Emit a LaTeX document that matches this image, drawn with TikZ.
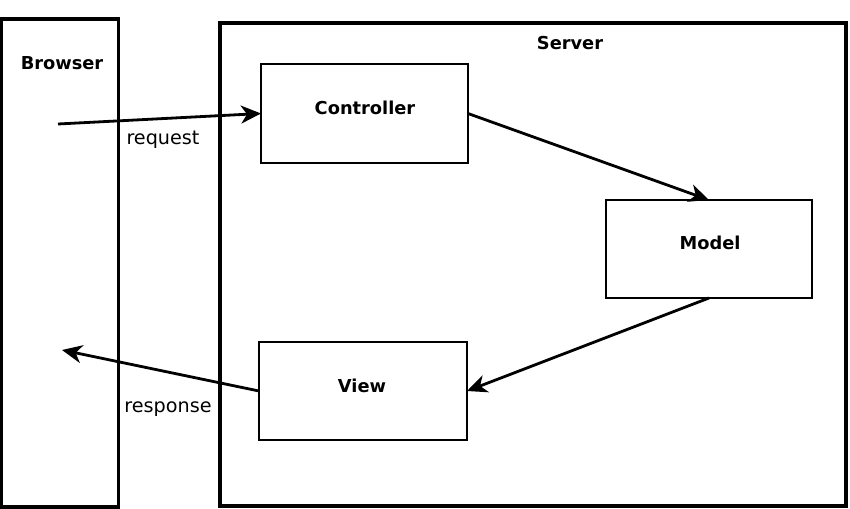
\documentclass[tikz,border=0pt]{standalone}
\usepackage{fontspec}
\setmainfont{DejaVu Sans}
\usetikzlibrary{arrows.meta}
\begin{document}
\begin{tikzpicture}[x=1pt,y=-1pt,
  outer/.style={draw,line width=3.2pt,inner sep=0pt,outer sep=0pt},
  inner/.style={draw,line width=2.8pt,inner sep=0pt,outer sep=0pt},
  title/.style={font=\fontsize{17.8}{20}\selectfont\bfseries,inner sep=0pt},
  lbl/.style={font=\fontsize{19.2}{21}\selectfont,inner sep=0pt},
  flow/.style={line width=2.8pt,-{Stealth[length=20pt,width=18pt,inset=6pt]}}]
\useasboundingbox (0,0) rectangle (850,508);
\node[outer,minimum width=117pt,minimum height=488pt] (browser) at (60,263) {};
\node[outer,minimum width=626pt,minimum height=483pt] (server) at (533,264.5) {};
\node[inner,minimum width=207pt,minimum height=99pt] (ctrl) at (364.5,113.5) {};
\node[inner,minimum width=206pt,minimum height=98pt] (model) at (709,249) {};
\node[inner,minimum width=208pt,minimum height=98pt] (view) at (363,391) {};
\node[title] (tb) at (62,63) {Browser};
\node[title] (ts) at (570,43) {Server};
\node[title] (tc) at (365,108) {Controller};
\node[title] (tm) at (710,243) {Model};
\node[title] (tv) at (362,386) {View};
\node[lbl] (lreq) at (163,140) {request};
\node[lbl] (lres) at (168,409) {response};
\coordinate (reqstart) at (58,124);
\coordinate (resend) at (62,350);
\draw[flow] (reqstart) -- (ctrl.west);
\draw[flow] (ctrl.east) -- (model.north);
\draw[flow] (model.south) -- (view.east);
\draw[flow] (view.west) -- (resend);
\end{tikzpicture}
\end{document}
